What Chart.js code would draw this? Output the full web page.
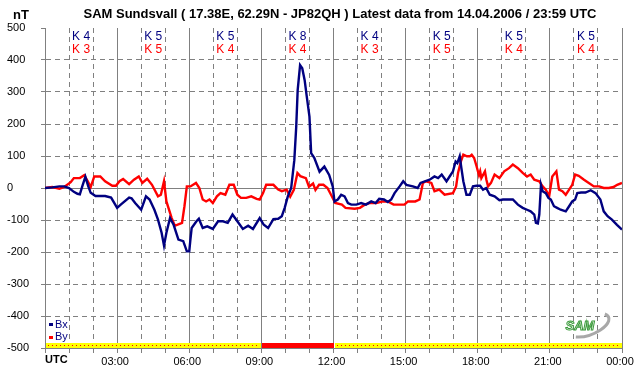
<!DOCTYPE html>
<html>
<head>
<meta charset="utf-8">
<script src="https://cdn.jsdelivr.net/npm/chart.js@4.4.0/dist/chart.umd.min.js"></script>
<style>
  html, body { margin: 0; padding: 0; background: #fff; }
  #chart { display: block; }
</style>
</head>
<body>
<canvas id="chart" width="642" height="376"></canvas>
<script>
const titleText = "SAM Sundsvall ( 17.38E, 62.29N - JP82QH ) Latest data from 14.04.2006 / 23:59 UTC";
const unitLabel = "nT";

// K indices per 3 hour block
const kBx = [4, 5, 5, 8, 4, 5, 5, 5];
const kBy = [3, 5, 4, 4, 3, 5, 4, 4];

// status band along the bottom (hours)
const bandStart = [0, 9, 12];
const bandEnd = [9, 12, 24];
const bandAlert = [false, true, false];

// Bx (hours UTC, nT)
const bxHours = [0, 0.3, 0.6, 0.8, 1.0, 1.2, 1.35, 1.45, 1.55, 1.68, 1.8, 1.9, 2.1, 2.5, 2.75, 3.0, 3.15, 3.5, 3.6, 3.75,
  4.0, 4.2, 4.35, 4.55, 4.7, 4.85, 4.95, 5.05, 5.2, 5.35, 5.55, 5.75, 5.9, 6.0, 6.05, 6.1, 6.3, 6.4, 6.56, 6.75,
  6.98, 7.2, 7.4, 7.6, 7.8, 8.0, 8.23, 8.45, 8.65, 8.93, 9.1, 9.28, 9.5, 9.7, 9.85, 9.97, 10.1, 10.24, 10.37, 10.45,
  10.51, 10.61, 10.7, 10.8, 10.89, 11.0, 11.07, 11.2, 11.42, 11.62, 11.82, 11.97, 12.04, 12.18, 12.32, 12.46, 12.6, 12.74, 12.95, 13.15,
  13.35, 13.57, 13.75, 13.9, 14.1, 14.26, 14.4, 14.54, 14.75, 14.9, 15.03, 15.3, 15.5, 15.62, 15.8, 16.0, 16.2, 16.35, 16.5, 16.7,
  16.83, 16.97, 17.08, 17.15, 17.25, 17.32, 17.4, 17.53, 17.67, 17.8, 17.95, 18.1, 18.22, 18.35, 18.5, 18.7, 18.9, 19.05, 19.46, 19.67,
  19.87, 20.05, 20.2, 20.35, 20.42, 20.5, 20.56, 20.63, 20.7, 20.83, 20.94, 21.04, 21.17, 21.3, 21.45, 21.66, 21.8, 21.93, 22.05, 22.14,
  22.3, 22.48, 22.7, 22.9, 23.1, 23.24, 23.4, 23.58, 23.79, 24.0];
const bxValues = [0, 2, 5, 5, 0, -12, -18, -20, 5, 35, 5, -15, -25, -25, -30, -62, -52, -30, -32, -47,
  -68, -26, -36, -68, -99, -140, -180, -140, -94, -115, -161, -166, -198, -198, -160, -125, -104, -96, -125, -120,
  -128, -104, -104, -109, -83, -104, -128, -118, -128, -94, -115, -125, -97, -96, -88, -62, -26, 0, 87, 192,
  306, 384, 374, 337, 285, 223, 109, 94, 51, 67, 41, 4, -42, -36, -21, -26, -47, -52, -52, -47,
  -52, -42, -47, -34, -36, -44, -36, -16, 5, 21, 10, 5, 0, 16, 21, 26, 36, 31, 42, 21,
  36, 52, 83, 78, 99, 62, 21, -21, -21, 5, 7, 7, -5, 0, -21, -26, -38, -36, -36, -52,
  -62, -68, -73, -83, -109, -111, -83, 10, -10, -16, -31, -36, -57, -62, -68, -73, -57, -42, -36, -16,
  -14, -14, -7, -16, -36, -73, -88, -99, -115, -130];

// By (hours UTC, nT)
const byHours = [0, 0.3, 0.6, 0.8, 1.07, 1.2, 1.45, 1.63, 1.78, 1.9, 2.05, 2.3, 2.5, 2.8, 2.95, 3.1, 3.25, 3.5, 3.7, 3.9,
  4.05, 4.25, 4.45, 4.7, 4.82, 4.95, 5.05, 5.27, 5.4, 5.6, 5.7, 5.8, 5.9, 6.05, 6.28, 6.42, 6.56, 6.7, 6.84, 6.98,
  7.15, 7.3, 7.5, 7.67, 7.85, 8.0, 8.15, 8.37, 8.58, 8.8, 8.93, 9.07, 9.2, 9.5, 9.7, 9.85, 10.05, 10.2, 10.35, 10.5,
  10.62, 10.85, 10.98, 11.15, 11.25, 11.4, 11.58, 11.75, 11.93, 12.07, 12.35, 12.5, 12.88, 13.1, 13.3, 13.5, 13.78, 14.05, 14.26, 14.5,
  14.75, 14.95, 15.1, 15.4, 15.58, 15.72, 15.85, 16.07, 16.2, 16.4, 16.62, 16.97, 17.1, 17.18, 17.3, 17.4, 17.55, 17.67, 17.75, 17.85,
  17.95, 18.05, 18.1, 18.15, 18.3, 18.36, 18.43, 18.55, 18.7, 18.9, 19.1, 19.3, 19.46, 19.67, 19.87, 20.05, 20.2, 20.35, 20.56, 20.7,
  20.83, 20.97, 21.1, 21.27, 21.38, 21.52, 21.66, 21.8, 21.93, 22.05, 22.2, 22.42, 22.62, 22.83, 23.05, 23.24, 23.45, 23.65, 23.8, 24.0];
const byValues = [0, 3, -2, 3, 18, 31, 31, 40, 21, 3, 36, 36, 21, 7, 7, 21, 28, 12, 26, 36,
  16, 29, 10, -26, -21, 21, -42, -94, -118, -112, -109, -57, 5, 5, 16, 0, -36, -42, -36, -47,
  -26, -16, -21, 10, 10, -21, -31, -31, -26, -34, -36, -16, 10, 10, -5, -10, -5, -27, -6, 47,
  37, 31, 4, 14, -6, 10, 10, 0, -26, -47, -52, -62, -65, -62, -52, -47, -47, -42, -42, -52,
  -52, -52, -42, -42, -36, 16, 21, 16, -10, -5, -21, -16, 5, 47, 83, 104, 99, 99, 104, 94,
  68, 40, 52, 31, 52, 26, 5, 16, 42, 31, 52, 62, 73, 62, 47, 36, 42, 26, 21, 5,
  -5, -26, 36, 52, -5, -10, -21, -5, 10, 42, 38, 26, 16, 5, 5, 0, 0, 3, 10, 16];

const BLUE = "#000080";
const RED = "#ff0000";
const GRID = "#808080";
const FONT = "Liberation Sans, Arial, sans-serif";

function toPoints(hours, values) {
  return hours.map((h, i) => ({ x: h, y: values[i] }));
}

function hourLabel(v) {
  if (v % 3 !== 0 || v === 0) return "";
  const h = v % 24;
  return (h < 10 ? "0" + h : "" + h) + ":00";
}

// extra drawing: status band, K indices, title, legend, logo
const decor = {
  id: "decor",
  beforeDatasetsDraw(chart) {
    const { ctx, scales: { x, y } } = chart;
    const yb = Math.round(y.getPixelForValue(-500));
    ctx.save();
    for (let i = 0; i < bandStart.length; i++) {
      const x1 = Math.round(x.getPixelForValue(bandStart[i])) + 1;
      const x2 = Math.round(x.getPixelForValue(bandEnd[i]));
      if (bandAlert[i]) {
        ctx.fillStyle = RED;
        ctx.fillRect(x1, yb - 5, x2 - x1, 5);
      } else {
        ctx.fillStyle = "#ffff00";
        ctx.fillRect(x1, yb - 5, x2 - x1, 5);
        ctx.fillStyle = RED;
        for (let px = x1 + 2; px < x2 - 1; px += 4) ctx.fillRect(px, yb - 3, 1, 1);
      }
    }
    ctx.restore();
  },
  afterDraw(chart) {
    const { ctx, scales: { x, y }, chartArea } = chart;
    ctx.save();

    // title and unit
    ctx.fillStyle = "#000";
    ctx.textBaseline = "middle";
    ctx.textAlign = "center";
    ctx.font = "bold 13px " + FONT;
    ctx.fillText(titleText, 340, 14);
    ctx.fillText(unitLabel, 21, 15);

    // UTC label under the axis start
    ctx.textAlign = "left";
    ctx.font = "bold 11px " + FONT;
    ctx.fillText("UTC", chartArea.left, 360);

    // K indices
    ctx.textAlign = "center";
    ctx.font = "12px " + FONT;
    for (let i = 0; i < kBx.length; i++) {
      const cx = x.getPixelForValue(i * 3 + 1.5);
      ctx.fillStyle = BLUE;
      ctx.fillText("K " + kBx[i], cx, 37);
      ctx.fillStyle = RED;
      ctx.fillText("K " + kBy[i], cx, 50);
    }

    // legend
    ctx.textAlign = "left";
    ctx.font = "11px " + FONT;
    const lx = chartArea.left + 4;
    ctx.fillStyle = BLUE;
    ctx.fillRect(lx, 323, 4, 3);
    ctx.fillText("Bx", lx + 6, 325);
    ctx.fillStyle = RED;
    ctx.fillRect(lx, 336, 4, 3);
    ctx.fillStyle = BLUE;
    ctx.fillText("By", lx + 6, 337);

    // SAM logo
    ctx.strokeStyle = "#a8a8a8";
    ctx.lineWidth = 3;
    ctx.beginPath();
    ctx.ellipse(588, 325, 22, 10, -0.35, -0.15 * Math.PI, 0.75 * Math.PI);
    ctx.stroke();
    ctx.font = "italic bold 13px " + FONT;
    ctx.textAlign = "center";
    ctx.fillStyle = "#e8f4e8";
    ctx.fillText("SAM", 580, 326);
    ctx.strokeStyle = "#3a9a3a";
    ctx.lineWidth = 1;
    ctx.strokeText("SAM", 580, 326);

    ctx.restore();
  }
};

const ctx = document.getElementById("chart").getContext("2d");
const chart = new Chart(ctx, {
  type: "line",
  data: {
    datasets: [
      {
        label: "Bx",
        data: toPoints(bxHours, bxValues),
        borderColor: BLUE,
        backgroundColor: BLUE,
        borderWidth: 2.4,
        pointRadius: 0,
        tension: 0,
      },
      {
        label: "By",
        data: toPoints(byHours, byValues),
        borderColor: RED,
        backgroundColor: RED,
        borderWidth: 2.4,
        pointRadius: 0,
        tension: 0,
      },
    ],
  },
  options: {
    responsive: false,
    animation: false,
    devicePixelRatio: 1,
    layout: { padding: { left: 7, right: 20, top: 28, bottom: 0 } },
    plugins: {
      legend: { display: false },
      title: { display: false },
      tooltip: { enabled: false },
    },
    scales: {
      x: {
        type: "linear",
        min: 0,
        max: 24,
        afterFit: (scale) => { scale.height = 28; },
        ticks: {
          stepSize: 1,
          autoSkip: false,
          maxRotation: 0,
          padding: 2,
          labelOffset: -2,
          color: "#000",
          font: { family: FONT, size: 11 },
          callback: (v) => hourLabel(v),
        },
        grid: {
          color: GRID,
          tickColor: GRID,
          tickLength: 5,
          lineWidth: 1,
        },
        border: {
          color: GRID,
          dash: (c) => (c.type === "tick" && c.tick && c.tick.value % 3 !== 0 ? [5, 4] : []),
        },
      },
      y: {
        min: -500,
        max: 500,
        afterFit: (scale) => { scale.width = 38; },
        ticks: {
          stepSize: 100,
          crossAlign: "far",
          padding: 2,
          color: "#000",
          font: { family: FONT, size: 11 },
        },
        grid: {
          color: (c) => (c.tick && c.tick.value === 500 ? "rgba(0,0,0,0)" : GRID),
          tickColor: GRID,
          tickLength: 4,
          lineWidth: 1,
        },
        border: {
          color: GRID,
          dash: (c) => (c.type === "tick" && c.tick && c.tick.value !== 0 ? [5, 4] : []),
        },
      },
    },
  },
  plugins: [decor],
});
</script>
</body>
</html>
